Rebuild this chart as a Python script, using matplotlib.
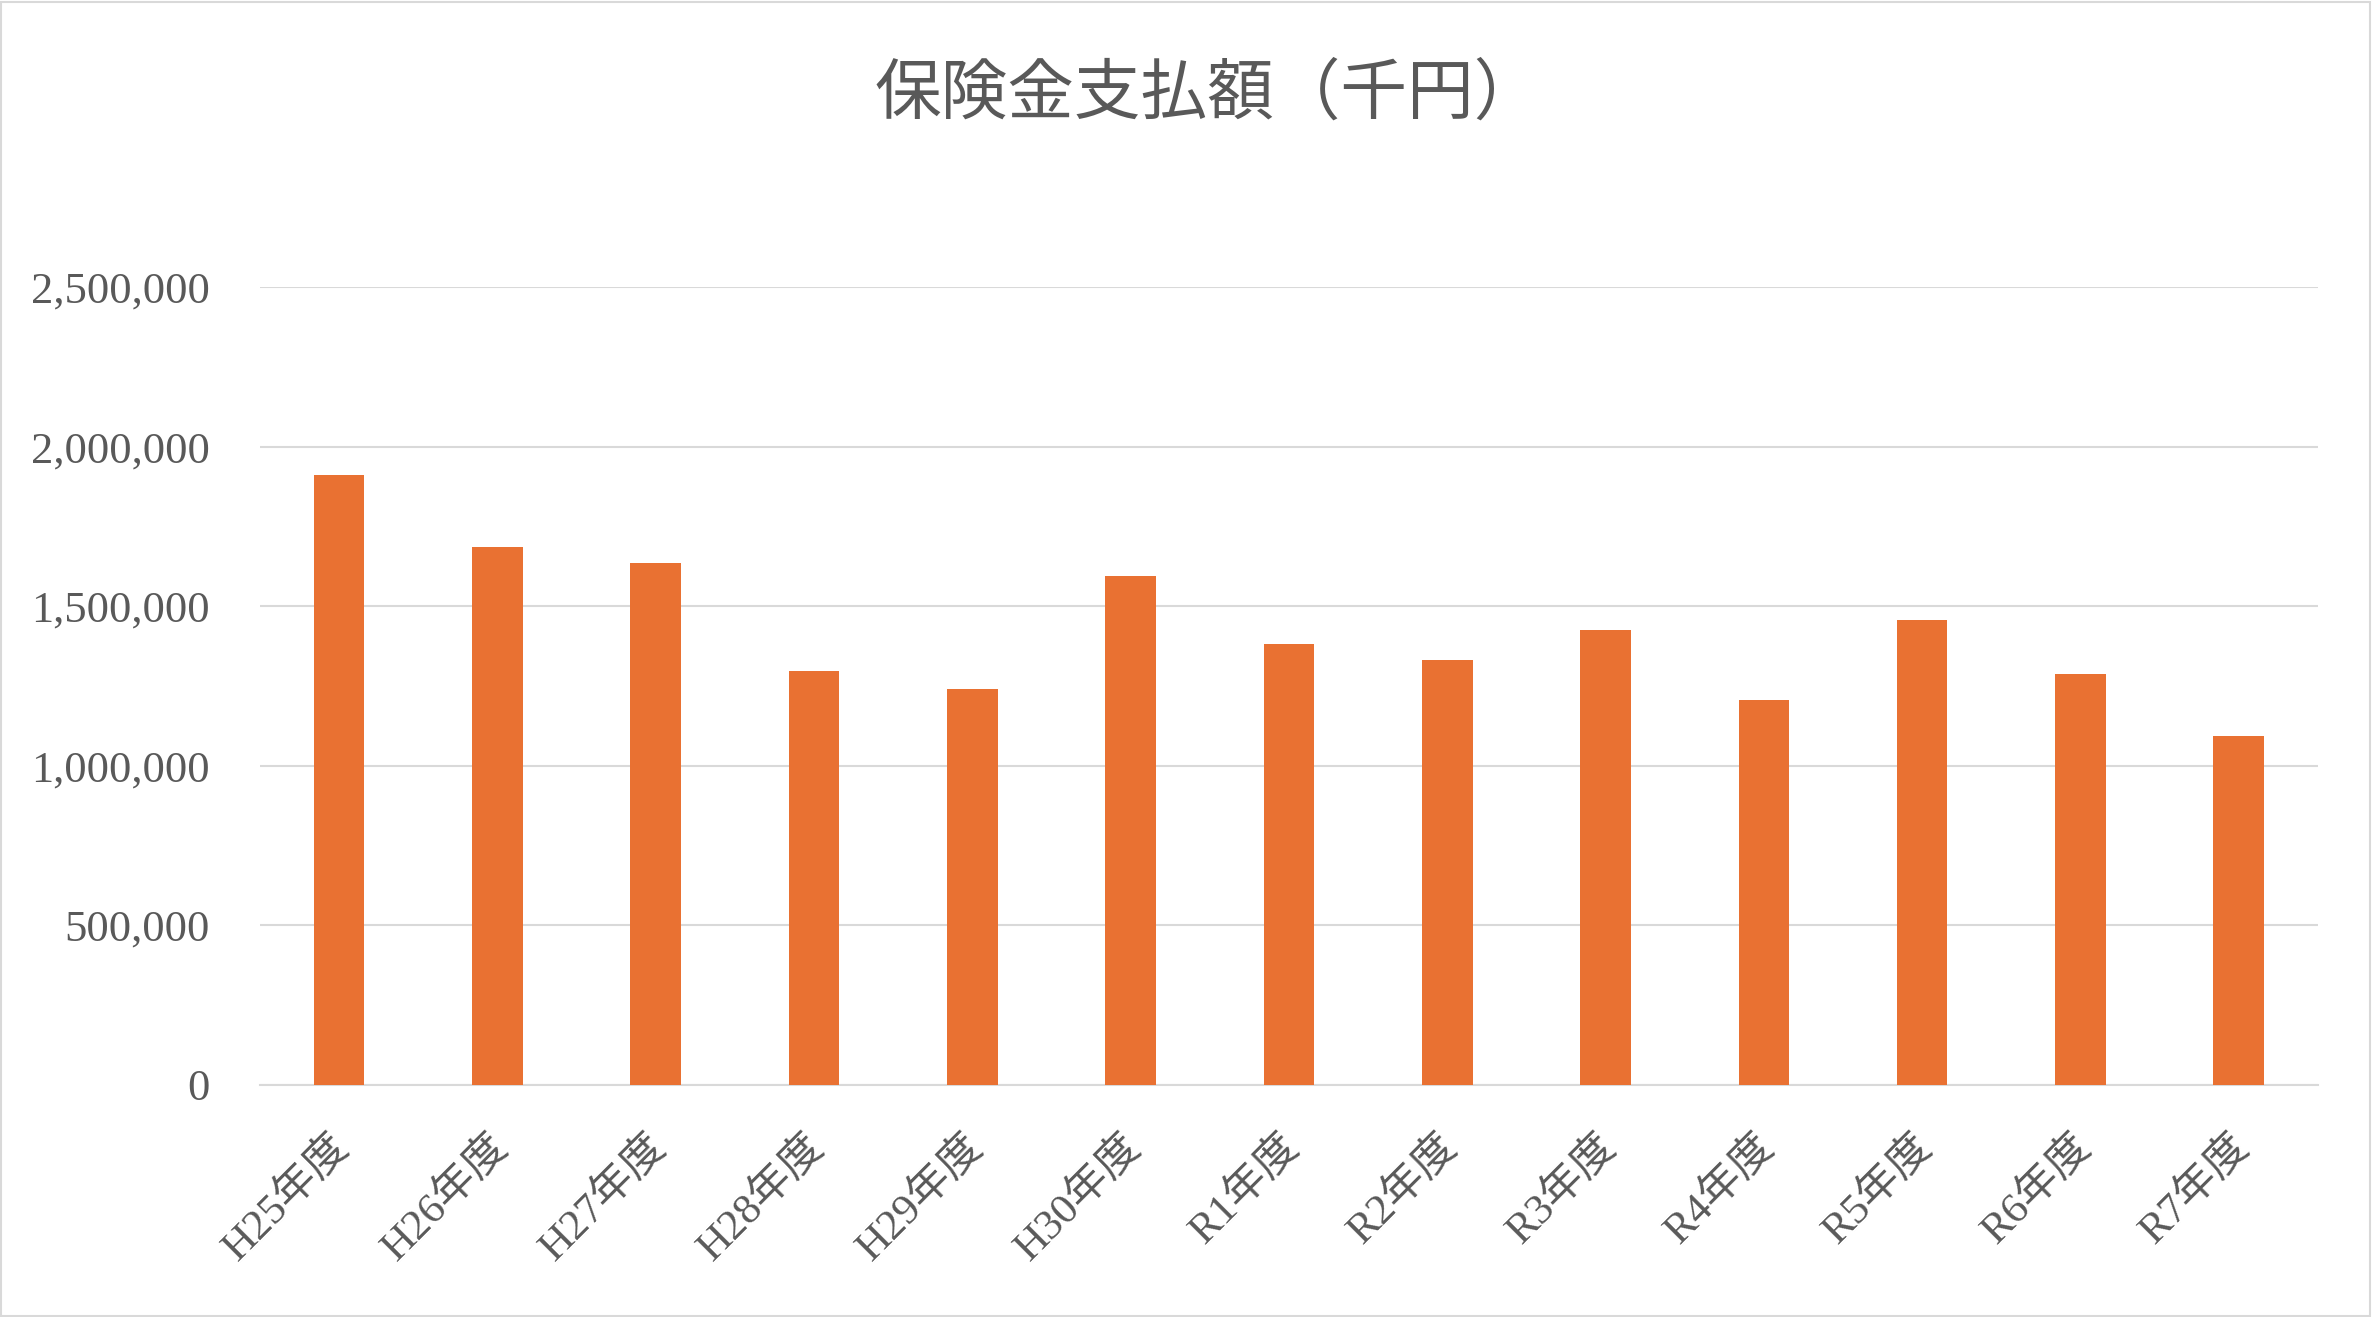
import matplotlib
matplotlib.use("Agg")
import matplotlib.pyplot as plt
from matplotlib.patches import Rectangle
from matplotlib.ticker import FuncFormatter, MultipleLocator
from matplotlib.transforms import ScaledTranslation

categories = ["H25年度", "H26年度", "H27年度", "H28年度", "H29年度", "H30年度",
              "R1年度", "R2年度", "R3年度", "R4年度", "R5年度", "R6年度", "R7年度"]
values = [1911000, 1685000, 1635000, 1297000, 1242000, 1595000,
          1380000, 1331000, 1424000, 1207000, 1457000, 1287000, 1094000]
title = "保険金支払額（千円）"

BAR = "#E97132"
GRID = "#D9D9D9"
TXT = "#595959"
serif = ["Liberation Serif", "Noto Sans CJK JP"]

fig = plt.figure(figsize=(23.72, 13.17), dpi=100)
fig.patch.set_facecolor("white")
fig.patches.append(Rectangle((0.0005, 0.0008), 0.9985, 0.998, transform=fig.transFigure,
                             fill=False, edgecolor=GRID, linewidth=1.5))

ax = fig.add_axes([0.1096, 0.1762, 0.9772 - 0.1096, 0.7821 - 0.1762])
x = list(range(len(categories)))
ax.bar(x, values, width=0.32, color=BAR, zorder=3)
ax.set_xlim(-0.5, len(categories) - 0.5)
ax.set_ylim(0, 2500000)
ax.yaxis.set_major_locator(MultipleLocator(500000))
ax.yaxis.set_major_formatter(FuncFormatter(lambda v, p: f"{int(v):,}"))
ax.grid(axis="y", color=GRID, linewidth=1.5, zorder=0)
for s in ["top", "right", "left"]:
    ax.spines[s].set_visible(False)
ax.spines["bottom"].set_color(GRID)
ax.spines["bottom"].set_linewidth(1.5)
ax.tick_params(axis="both", length=0)
ax.tick_params(axis="y", pad=36, labelcolor=TXT, labelsize=32)
for lab in ax.get_yticklabels():
    lab.set_family(serif)

ax.set_xticks(x)
ax.set_xticklabels(categories, rotation=45, ha="right", va="top",
                   rotation_mode="anchor", family=serif, fontsize=31, color=TXT)
ax.tick_params(axis="x", pad=30)
off = ScaledTranslation(-10 / 100, 0, fig.dpi_scale_trans)
for lab in ax.get_xticklabels():
    lab.set_transform(lab.get_transform() + off)

fig.text(0.509, 0.928, title, ha="center", va="center", fontsize=48,
         color=TXT, family=["Noto Sans CJK JP", "DejaVu Sans"])

fig.savefig("out.png", dpi=100, facecolor="white")
